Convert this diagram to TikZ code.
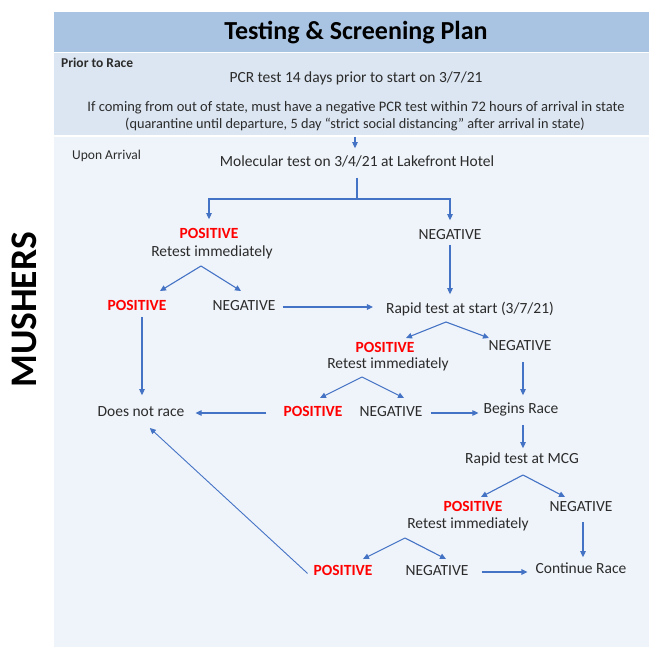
\documentclass[tikz,border=0pt]{standalone}
\usepackage{fontspec}
\setmainfont{Carlito}
\usetikzlibrary{arrows.meta,calc}
\definecolor{hdrblue}{HTML}{A9C4E2}
\definecolor{priorblue}{HTML}{DCE6F2}
\definecolor{mainblue}{HTML}{EFF4FA}
\definecolor{arrowblue}{HTML}{4472C4}
\definecolor{txtgray}{HTML}{2B2B2B}
\definecolor{posred}{HTML}{FF0000}
\newcommand\myfs[1]{\fontsize{#1}{#1}\selectfont}
\begin{document}
\begin{tikzpicture}[x=1pt,y=-1pt,
  lbl/.style={text=txtgray,font=\myfs{15.5},inner sep=0pt,text height=10.5pt,text depth=2.8pt},
  smalllbl/.style={text=txtgray,font=\myfs{13.5},inner sep=0pt,text height=9pt,text depth=2.4pt},
  poslbl/.style={lbl,text=posred,font=\myfs{15.5}\bfseries},
  con/.style={draw=arrowblue,line width=1.1pt,-{Triangle[length=6pt,width=5.5pt]}},
  stem/.style={draw=arrowblue,line width=1.1pt}]
\useasboundingbox (0,0) rectangle (649,647);
% backgrounds
\fill[white] (0,0) rectangle (649,647);
\fill[hdrblue] (54,12) rectangle (649,52);
\fill[priorblue] (54,53) rectangle (649,135.5);
\fill[mainblue] (54,137) rectangle (649,647);
% texts
\node[font=\myfs{26}\bfseries,text=black] (title) at (356,33) {Testing \& Screening Plan};
\node[smalllbl,font=\myfs{13.5}\bfseries,anchor=west] (prior) at (61,64) {Prior to Race};
\node[lbl] (pcr) at (356,79) {PCR test 14 days prior to start on 3/7/21};
\node[smalllbl,font=\myfs{14.5}] (oos1) at (356,108) {If coming from out of state, must have a negative PCR test within 72 hours of arrival in state};
\node[smalllbl,font=\myfs{14.3}] (oos2) at (355,125) {(quarantine until departure, 5 day “strict social distancing” after arrival in state)};
\node[smalllbl,anchor=west] (arrival) at (72,156) {Upon Arrival};
\node[lbl] (mol) at (357,163) {Molecular test on 3/4/21 at Lakefront Hotel};
\node[poslbl] (pos1) at (209,235) {POSITIVE};
\node[lbl] (ret1) at (212,253) {Retest immediately};
\node[lbl] (neg1) at (450,236) {NEGATIVE};
\node[poslbl] (pos2) at (137,307) {POSITIVE};
\node[lbl] (neg2) at (244,307) {NEGATIVE};
\node[lbl] (rapid) at (470,310) {Rapid test at start (3/7/21)};
\node[poslbl] (pos3) at (385,349) {POSITIVE};
\node[lbl] (ret3) at (388,365) {Retest immediately};
\node[lbl] (neg3) at (520,347) {NEGATIVE};
\node[lbl] (dnr) at (141,413) {Does not race};
\node[poslbl] (pos4) at (313,413) {POSITIVE};
\node[lbl] (neg4) at (391,413) {NEGATIVE};
\node[lbl] (begins) at (521,410) {Begins Race};
\node[lbl] (mcg) at (522,460) {Rapid test at MCG};
\node[poslbl] (pos5) at (473,508) {POSITIVE};
\node[lbl] (ret5) at (468,525) {Retest immediately};
\node[lbl] (neg5) at (581,508) {NEGATIVE};
\node[poslbl] (pos6) at (343,572) {POSITIVE};
\node[lbl] (neg6) at (437,572) {NEGATIVE};
\node[lbl] (cont) at (581,570) {Continue Race};
\node[font=\myfs{37.5}\bfseries,text=black,rotate=90] (mushers) at (24,310) {MUSHERS};
% connectors
\draw[con,shorten <=6pt,shorten >=8pt] (oos2.south) -- (oos2.south |- mol.north);
\coordinate (br) at (357,199);
\draw[stem,shorten <=8pt] (mol.south) -- (br);
\draw[con,shorten >=9pt] (br) -| (pos1.north);
\draw[con,shorten >=9pt] (br) -| (neg1.north);
\draw[con,shorten <=2pt,shorten >=9pt] (neg1.south) -- (neg1.south |- rapid.north);
\coordinate (ap1) at (201,266);
\coordinate (ap1l) at (160,291);
\coordinate (ap1r) at (241,291);
\draw[con] (ap1) -- (ap1l);
\draw[con] (ap1) -- (ap1r);
\draw[con,shorten <=7pt,shorten >=13pt] (neg2.east) -- (neg2.east -| rapid.west);
\draw[con,shorten <=3pt,shorten >=11pt] ([xshift=5pt]pos2.south) -- ([xshift=5pt]pos2.south |- dnr.north);
\coordinate (ap2) at (446,322);
\coordinate (ap2l) at (406,338);
\coordinate (ap2r) at (489,338);
\draw[con] (ap2) -- (ap2l);
\draw[con] (ap2) -- (ap2r);
\draw[con,shorten <=8pt,shorten >=8pt] ([xshift=3pt]neg3.south) -- ([xshift=3pt]neg3.south |- begins.north);
\coordinate (ap3) at (362,377);
\coordinate (ap3l) at (320,398);
\coordinate (ap3r) at (404,398);
\draw[con] (ap3) -- (ap3l);
\draw[con] (ap3) -- (ap3r);
\draw[con,shorten <=17pt,shorten >=11pt] (pos4.west) -- (dnr.east);
\draw[con,shorten <=8pt,shorten >=5pt] (neg4.east) -- (neg4.east -| begins.west);
\draw[con,shorten <=8pt,shorten >=5pt] ([xshift=2pt]begins.south) -- ([xshift=2pt]begins.south |- mcg.north);
\coordinate (ap4) at (523,475);
\coordinate (ap4l) at (481,497);
\coordinate (ap4r) at (565,497);
\draw[con] (ap4) -- (ap4l);
\draw[con] (ap4) -- (ap4r);
\draw[con,shorten <=7pt,shorten >=6pt] ([xshift=2pt]neg5.south) -- ([xshift=2pt]neg5.south |- cont.north);
\coordinate (ap5) at (405,538);
\coordinate (ap5l) at (363,559);
\coordinate (ap5r) at (446,559);
\draw[con] (ap5) -- (ap5l);
\draw[con] (ap5) -- (ap5r);
\draw[con,shorten <=13pt,shorten >=8pt] (neg6.east) -- (neg6.east -| cont.west);
\draw[con,line width=0.9pt,shorten <=8pt,shorten >=12pt] (pos6.south west) -- (dnr.south);
\end{tikzpicture}
\end{document}
